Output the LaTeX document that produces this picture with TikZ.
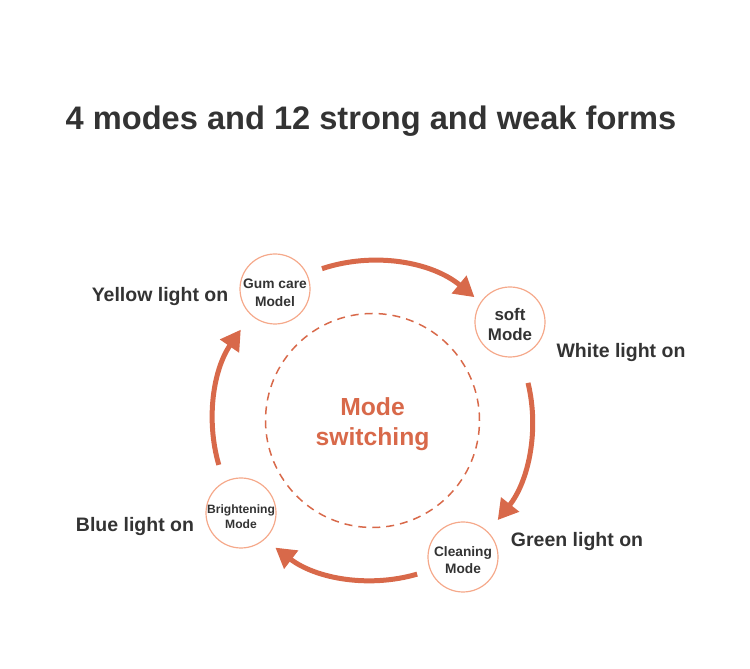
\documentclass[tikz,border=0pt]{standalone}
\usepackage{fontspec}
\setmainfont{Liberation Sans}
\usetikzlibrary{arrows.meta}

\definecolor{modeorange}{HTML}{D8694A}
\definecolor{ringorange}{HTML}{F5A98B}
\definecolor{textgray}{HTML}{333333}

\begin{document}
\begin{tikzpicture}[x=1pt,y=1pt,
	modecircle/.style={circle, draw=ringorange, line width=1.2pt, minimum size=70pt, inner sep=0pt},
	modetext/.style={align=center, text=textgray, yshift=-3.5pt},
	lamp/.style={text=textgray, font=\fontsize{19.5}{23}\selectfont\bfseries},
	cyclearrow/.style={modeorange, line width=5pt, -{Triangle[length=20pt,width=22pt]}}]
		\useasboundingbox (0,0) rectangle (750,669);
		\node[text=textgray, font=\fontsize{32.6}{39}\selectfont\bfseries] (title) at (371,548) {4 modes and 12 strong and weak forms};
		% centre ring
		\node[circle, draw=modeorange, line width=1.5pt, dash pattern=on 8pt off 6pt, minimum size=214pt,
			label={[modetext, text=modeorange, font=\fontsize{24.7}{30}\selectfont\bfseries]center:{Mode\\switching}}] (hub) at (372.5,248.5) {};
		% the four modes
		\node[modecircle, label={[modetext, font=\fontsize{13.8}{18}\selectfont\bfseries]center:{Gum care\\Model}}] (gum) at (275,380) {};
		\node[modecircle, label={[modetext, yshift=1.5pt, font=\fontsize{16.9}{20}\selectfont\bfseries]center:{soft\\Mode}}] (soft) at (510,347) {};
		\node[modecircle, label={[modetext, font=\fontsize{13.7}{17}\selectfont\bfseries]center:{Cleaning\\Mode}}] (clean) at (463,112) {};
		\node[modecircle, label={[modetext, font=\fontsize{12.1}{14.5}\selectfont\bfseries]center:{Brightening\\Mode}}] (bright) at (241,156) {};
		% lights
		\node[lamp] (yellow) at (160,372) {Yellow light on};
		\node[lamp] (white) at (621,316) {White light on};
		\node[lamp] (green) at (577,127) {Green light on};
		\node[lamp] (blue) at (135,142) {Blue light on};
		% arrows round the ring
		\draw[cyclearrow] (hub) ++(108.4:160) arc[start angle=108.4, end angle=50.4, radius=160];
		\draw[cyclearrow] (hub) ++(13.6:160) arc[start angle=13.6, end angle=-38.5, radius=160];
		\draw[cyclearrow] (hub) ++(-73.8:160) arc[start angle=-73.8, end angle=-127.4, radius=160];
		\draw[cyclearrow] (hub) ++(196.1:160) arc[start angle=196.1, end angle=145.4, radius=160];
	\end{tikzpicture}
\end{document}
